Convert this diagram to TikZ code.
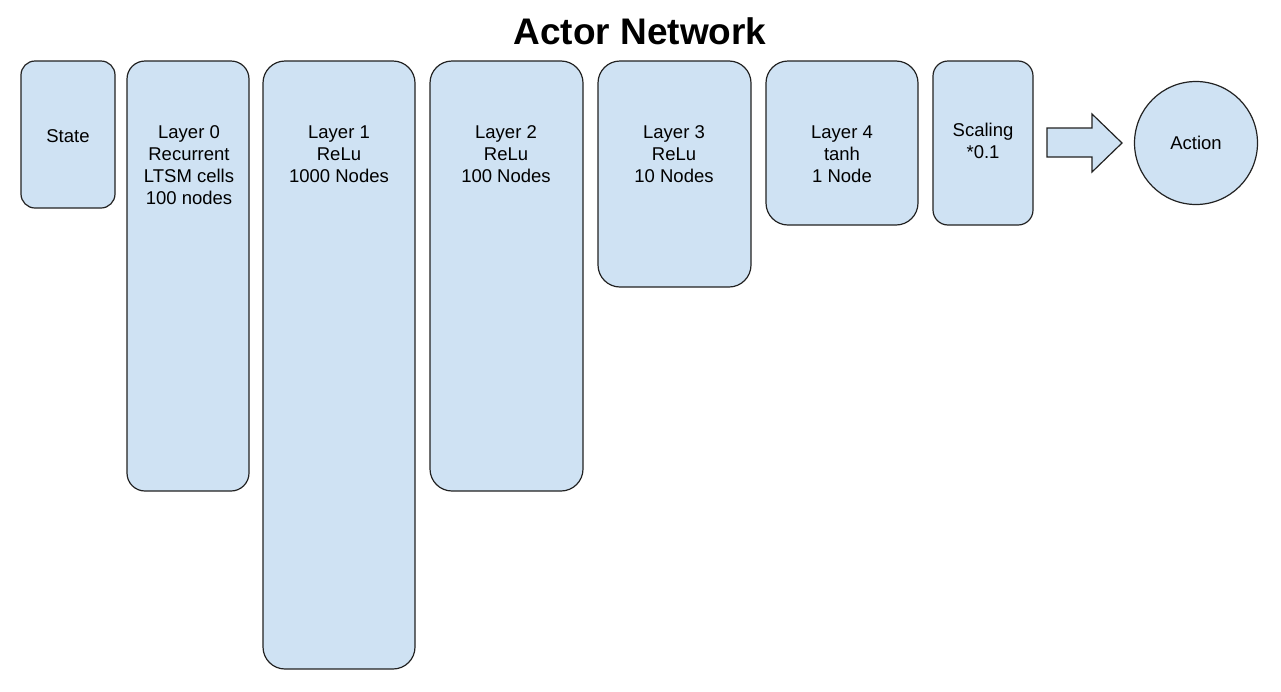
\documentclass[tikz,border=0pt]{standalone}
\usepackage{fontspec}
\setmainfont{Liberation Sans}
\definecolor{boxfill}{HTML}{CFE2F3}
\definecolor{boxline}{HTML}{222222}
\begin{document}
\begin{tikzpicture}[x=1pt,y=-1pt,
  layerbox/.style={draw=boxline,fill=boxfill,line width=1.2pt,inner sep=0pt,outer sep=0pt},
  layertext/.style={align=center,font=\fontsize{18.5}{22}\selectfont,inner sep=0pt,anchor=north},
  plaintext/.style={font=\fontsize{18.5}{22}\selectfont,inner sep=0pt},
  titletext/.style={font=\fontsize{37}{42}\selectfont\bfseries,inner sep=0pt}]
\useasboundingbox (0,0) rectangle (1281,691);
\node[titletext] (title) at (640,31) {Actor Network};
% boxes
\node[layerbox,rounded corners=14pt,minimum width=94pt,minimum height=147pt] (state) at (68,134.5) {};
\node[layerbox,rounded corners=18pt,minimum width=122pt,minimum height=430pt] (l0) at (188,276) {};
\node[layerbox,rounded corners=22pt,minimum width=152pt,minimum height=608pt] (l1) at (339,365) {};
\node[layerbox,rounded corners=22pt,minimum width=153pt,minimum height=430pt] (l2) at (506.5,276) {};
\node[layerbox,rounded corners=22pt,minimum width=153pt,minimum height=226pt] (l3) at (674.5,174) {};
\node[layerbox,rounded corners=22pt,minimum width=152pt,minimum height=164pt] (l4) at (842,143) {};
\node[layerbox,rounded corners=15pt,minimum width=100pt,minimum height=164pt] (scale) at (983,143) {};
\node[layerbox,circle,minimum size=123pt] (action) at (1196,143) {};
% texts
\node[plaintext] (tstate) at (68,136) {State};
\node[layertext] (t0) at (189,125) {Layer 0\\Recurrent\\LTSM cells\\100 nodes};
\node[layertext] (t1) at (339,126) {Layer 1\\ReLu\\1000 Nodes};
\node[layertext] (t2) at (506,125) {Layer 2\\ReLu\\100 Nodes};
\node[layertext] (t3) at (674,125) {Layer 3\\ReLu\\10 Nodes};
\node[layertext] (t4) at (842,126) {Layer 4\\tanh\\1 Node};
\node[layertext] (ts) at (983,123) {Scaling\\*0.1};
\node[plaintext] (ta) at (action.center) {Action};
% block arrow
\coordinate (atip) at (1122,143);
\draw[layerbox] (1047,128) -- (1092,128) -- (1092,114) -- (atip) -- (1092,172) -- (1092,157) -- (1047,157) -- cycle;
\end{tikzpicture}
\end{document}
